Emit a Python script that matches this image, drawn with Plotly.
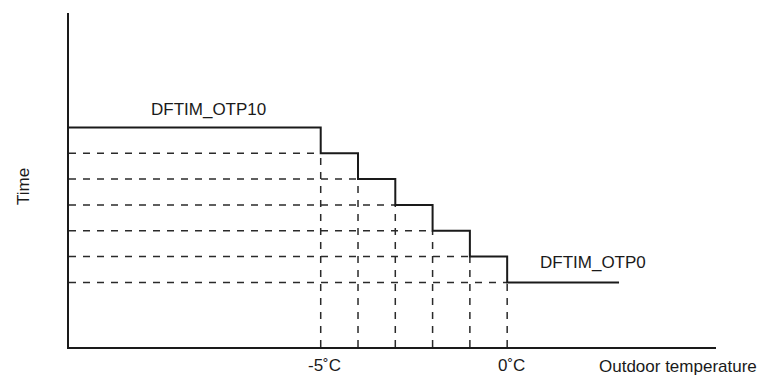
import plotly.graph_objects as go

# step points: outdoor temperature (deg C) where the defrost time drops
temps = [-5, -4, -3, -2, -1, 0]
# defrost time levels, DFTIM_OTP10 at the top down to DFTIM_OTP0
levels = [8.5, 7.5, 6.5, 5.5, 4.5, 3.5, 2.5]
x_start = -11.75
x_end = 3
tick_labels = ["-5˚C", "0˚C"]

FONT = "Liberation Sans, Arial, sans-serif"
INK = "#1a1a1a"
DASH_COL = "#2a2a2a"

fig = go.Figure()

# dashed horizontal guides
for i, t in enumerate(temps):
    fig.add_trace(go.Scatter(
        x=[x_start, t], y=[levels[i + 1], levels[i + 1]],
        mode="lines", line=dict(color=DASH_COL, width=1.5, dash="7px,7px"),
        hoverinfo="skip", showlegend=False))

# dashed vertical guides
for i, t in enumerate(temps):
    fig.add_trace(go.Scatter(
        x=[t, t], y=[0, levels[i + 1]],
        mode="lines", line=dict(color=DASH_COL, width=1.5, dash="7px,7px"),
        hoverinfo="skip", showlegend=False))

# the step curve
fig.add_trace(go.Scatter(
    x=[x_start] + temps + [x_end],
    y=levels + [levels[-1]],
    mode="lines", line=dict(color=INK, width=2, shape="hv"),
    hoverinfo="skip", showlegend=False))

annotations = [
    dict(x=-8, y=9.18, text="DFTIM_OTP10", showarrow=False),
    dict(x=2.3, y=3.29, text="DFTIM_OTP0", showarrow=False),
    dict(x=temps[0], y=0, text=tick_labels[0], showarrow=False,
         yanchor="middle", xshift=4, yshift=-18),
    dict(x=temps[-1], y=0, text=tick_labels[1], showarrow=False,
         yanchor="middle", xshift=4, yshift=-18),
    dict(xref="paper", yref="paper", x=1, y=0, text="Outdoor temperature",
         showarrow=False, xanchor="right", yanchor="middle", xshift=42, yshift=-19,
         borderpad=0),
    dict(xref="paper", yref="paper", x=0, y=0.479, text="Time", textangle=-90,
         showarrow=False, xanchor="center", yanchor="middle", xshift=-46),
]

# the page body adds an 8px offset, so margins are shifted to compensate
fig.update_layout(
    width=766, height=375,
    margin=dict(l=61, r=58, t=5, b=36),
    paper_bgcolor="white", plot_bgcolor="white",
    font=dict(family=FONT, size=17, color=INK),
    annotations=annotations,
    xaxis=dict(range=[x_start, 5.6], showgrid=False, zeroline=False,
               showticklabels=False, ticks="", showline=True,
               linecolor=INK, linewidth=1.5, fixedrange=True),
    yaxis=dict(range=[0, 12.93], showgrid=False, zeroline=False,
               showticklabels=False, ticks="", showline=True,
               linecolor=INK, linewidth=1.5, fixedrange=True),
)

fig.write_html("out.html", config={"displayModeBar": False})
